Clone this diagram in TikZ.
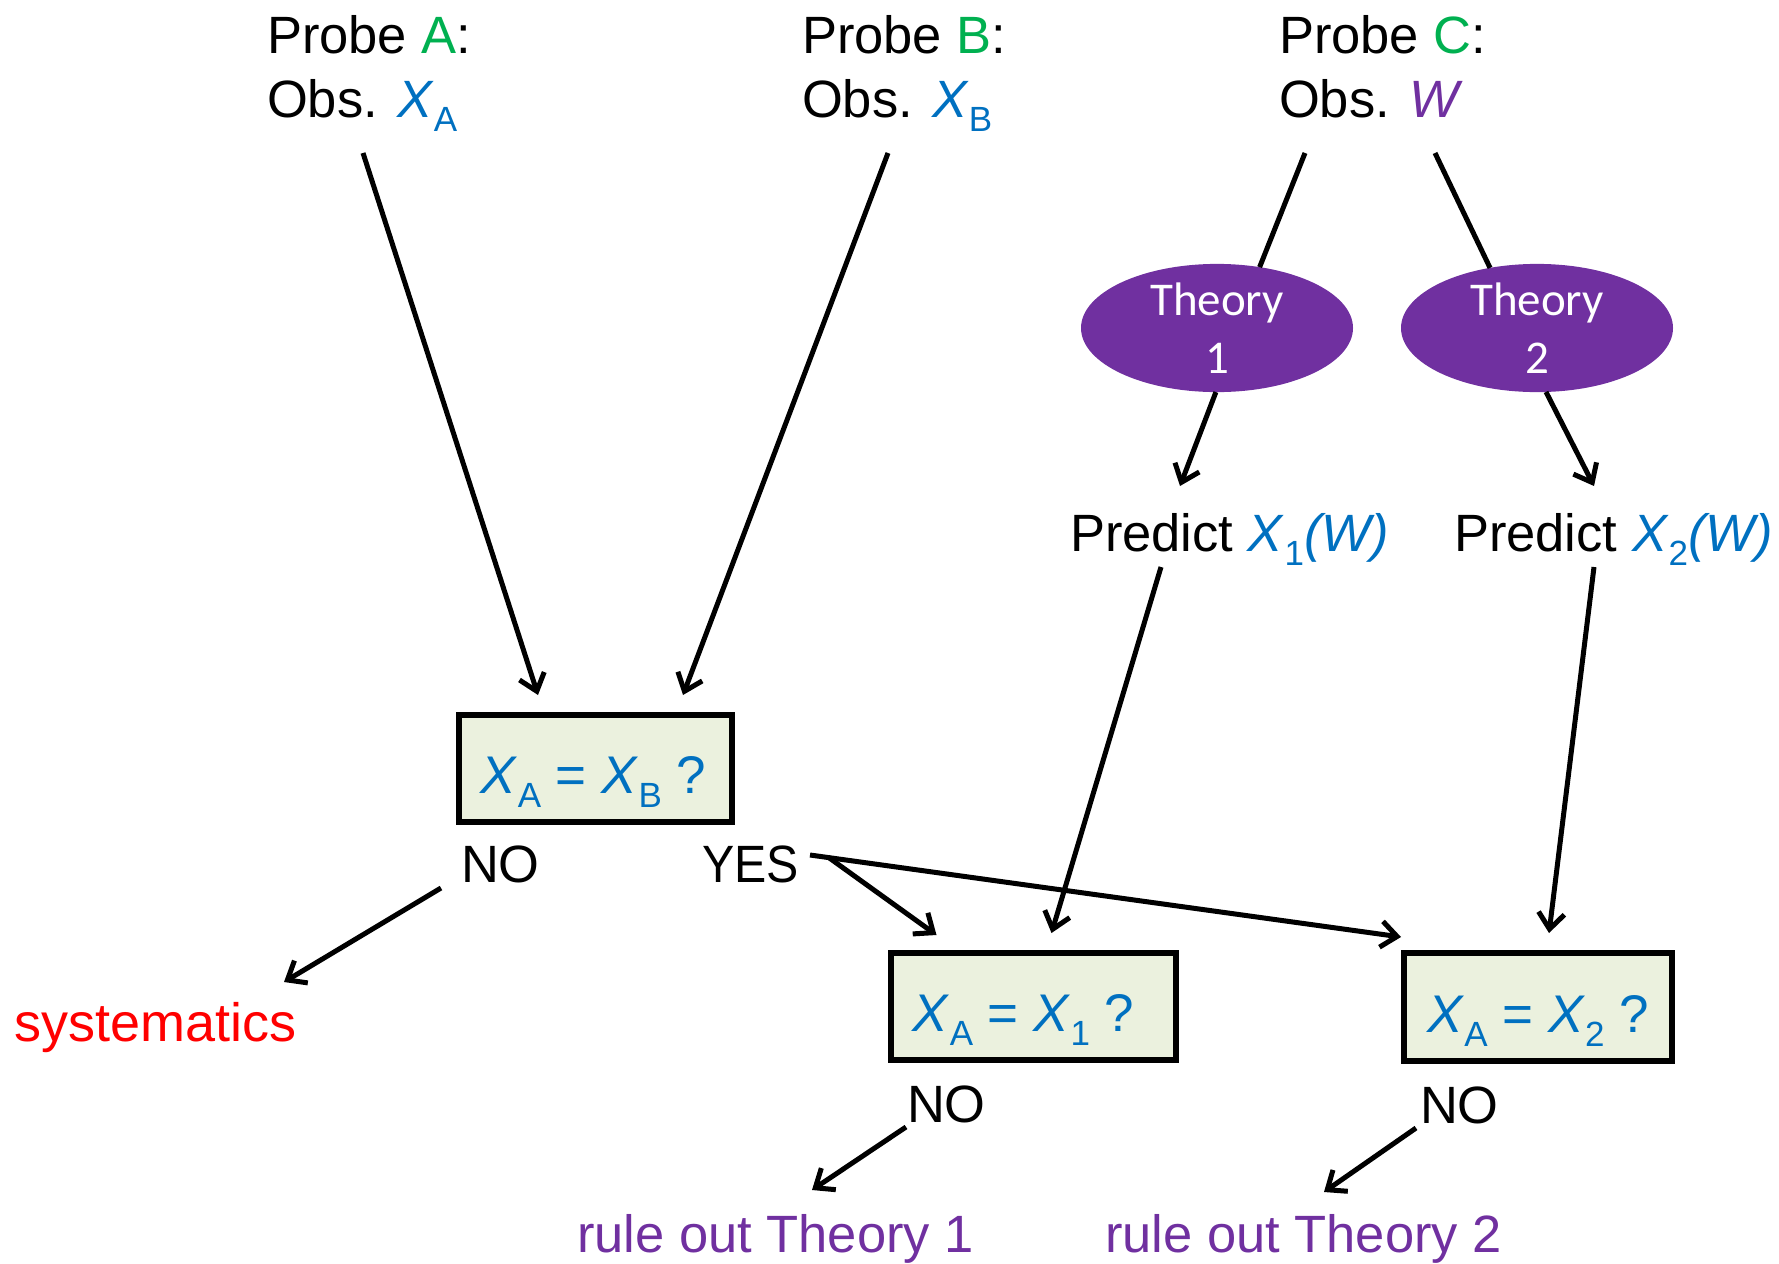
\documentclass[tikz,border=0pt]{standalone}
\usepackage{fontspec}
\setmainfont{Liberation Sans}
\newfontfamily\theoryfont{Carlito}
\usetikzlibrary{arrows.meta,shapes.geometric}
\definecolor{probegreen}{HTML}{00B050}
\definecolor{qblue}{HTML}{0070C0}
\definecolor{tpurple}{HTML}{7030A0}
\definecolor{boxfill}{HTML}{EBF1DE}
\definecolor{sysred}{HTML}{FF0000}
% lowered subscript as used in the labels
\newcommand\lowsub[1]{\raisebox{-14pt}{\fontsize{35}{35}\selectfont\upshape #1}}
\begin{document}
\begin{tikzpicture}[x=1pt,y=-1pt,
  twoline/.style={inner sep=0pt, outer sep=0pt, font=\fontsize{52.5}{64}\selectfont, align=left, anchor=north west},
  lbl/.style={inner sep=0pt, outer sep=0pt, font=\fontsize{52.5}{64}\selectfont, anchor=base west},
  eqn/.style={inner sep=0pt, outer sep=0pt, font=\fontsize{53}{64}\selectfont, anchor=base, text=qblue},
  arr/.style={line width=5pt, -{Straight Barb[length=16pt,width=26pt]}},
  plain/.style={line width=5pt},
  qbox/.style={draw, line width=6pt, fill=boxfill, inner sep=0pt},
  theory/.style={ellipse, fill=tpurple, inner sep=0pt, outer sep=0pt,
    minimum width=272pt, minimum height=128pt, text=white,
    font=\theoryfont\fontsize{47}{58}\selectfont, align=center}]
\useasboundingbox (0,0) rectangle (1779,1263);

% probes
\node[twoline] (probeA) at (267,15) {Probe {\color{probegreen}A}:\\Obs. {\color{qblue}\textit{X}\lowsub{A}}};
\node[twoline] (probeB) at (802,15) {Probe {\color{probegreen}B}:\\Obs. {\color{qblue}\textit{X}\lowsub{B}}};
\node[twoline] (probeC) at (1279,15) {Probe {\color{probegreen}C}:\\Obs. {\color{tpurple}\textit{W}}};

% theories
\node[theory] (theory1) at (1217,328) {Theory\\1};
\node[theory] (theory2) at (1537,328) {Theory\\2};

% predictions
\node[lbl] (pred1) at (1070,551) {Predict {\color{qblue}\textit{X}\lowsub{1}\textit{(W)}}};
\node[lbl] (pred2) at (1454,551) {Predict {\color{qblue}\textit{X}\lowsub{2}\textit{(W)}}};

% comparison boxes
\node[qbox, minimum width=273pt, minimum height=107pt] (box1) at (595.5,768.5) {};
\node[eqn] (box1txt) at ([shift={(-2,25)}]box1.center) {\textit{X}\lowsub{A} = \textit{X}\lowsub{B} ?};
\node[qbox, minimum width=285pt, minimum height=107pt] (box2) at (1033.5,1006.5) {};
\node[eqn] (box2txt) at ([shift={(-10,25)}]box2.center) {\textit{X}\lowsub{A} = \textit{X}\lowsub{1} ?};
\node[qbox, minimum width=268pt, minimum height=108pt] (box3) at (1538,1007) {};
\node[eqn] (box3txt) at ([shift={(0,25)}]box3.center) {\textit{X}\lowsub{A} = \textit{X}\lowsub{2} ?};

% outcomes
\node[lbl] (no1) at (461,882) {NO};
\node[lbl] (yes1) at (702,882) {\scalebox{0.92}[1]{YES}};
\node[lbl, text=sysred] (sys) at (14,1041) {\fontsize{54}{64}\selectfont systematics};
\node[lbl] (no2) at (907,1122) {NO};
\node[lbl] (no3) at (1420,1123) {NO};
\node[lbl, text=tpurple] (rule1) at (577,1252) {rule out Theory 1};
\node[lbl, text=tpurple] (rule2) at (1105,1252) {rule out Theory 2};

% connectors
\draw[arr] ([shift={(96,138)}]probeA.north west) -- ([shift={(-57.5,-17)}]box1.north);
\draw[arr] ([shift={(86,138)}]probeB.north west) -- ([shift={(87.5,-17)}]box1.north);
\draw[plain] ([shift={(26,138)}]probeC.north west) -- (theory1.55);
\draw[plain] ([shift={(156,138)}]probeC.north west) -- (theory2.128);
\draw[arr] (theory1.-91) -- ([shift={(110,-65)}]pred1.base west);
\draw[arr] (theory2.-82) -- ([shift={(140,-65)}]pred2.base west);
\draw[arr] ([shift={(91,16)}]pred1.base west) -- ([shift={(18,-17)}]box2.north);
\draw[arr] ([shift={(140,16)}]pred2.base west) -- ([shift={(11,-17)}]box3.north);
\draw[arr] ([shift={(-20,6)}]no1.base west) -- ([shift={(270,-59)}]sys.base west);
\draw[arr] ([shift={(126,-25)}]yes1.base west) -- ([shift={(-97,-15)}]box2.north);
\draw[arr] ([shift={(108,-27)}]yes1.base west) -- ([shift={(0,-13)}]box3.north west);
\draw[arr] ([shift={(-1,5)}]no2.base west) -- ([shift={(235,-62)}]rule1.base west);
\draw[arr] ([shift={(-4,5)}]no3.base west) -- ([shift={(219,-60)}]rule2.base west);
\end{tikzpicture}
\end{document}
